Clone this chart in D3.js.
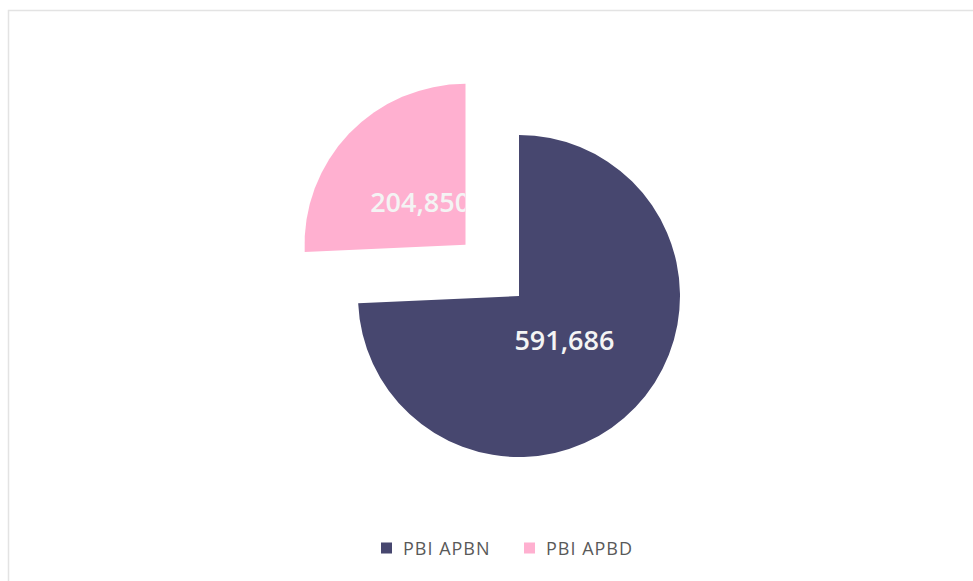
<!DOCTYPE html>
<html>
<head>
<meta charset="utf-8">
<script src="https://cdn.jsdelivr.net/npm/d3@7"></script>
<style>
  html, body { margin: 0; padding: 0; background: #ffffff; }
  svg { display: block; }
</style>
</head>
<body>
<svg id="chart" width="973" height="581"></svg>
<script>
const categories = ["PBI APBN", "PBI APBD"];
const values = [591686, 204850];
const colors = ["#47476F", "#FFB0D0"];
const explode = [0, 74];

const svg = d3.select("#chart");
const W = 973, H = 581;

// chart area border
svg.append("rect")
  .attr("x", 8.5).attr("y", 10.5)
  .attr("width", 1200).attr("height", 1200)
  .attr("fill", "#ffffff")
  .attr("stroke", "#e3e3e3").attr("stroke-width", 1.5);

const cx = 519, cy = 296, r = 161;
const fmt = d3.format(",");

const pie = d3.pie().sort(null).startAngle(0).endAngle(2 * Math.PI);
const arcs = pie(values);
const arc = d3.arc().innerRadius(0).outerRadius(r);
const labelArc = d3.arc().innerRadius(0).outerRadius(r * 0.78);

const defs = svg.append("defs");
const g = svg.append("g").attr("transform", `translate(${cx},${cy})`);

arcs.forEach((a, i) => {
  const mid = (a.startAngle + a.endAngle) / 2;
  const dx = Math.sin(mid) * explode[i];
  const dy = -Math.cos(mid) * explode[i];
  const sg = g.append("g").attr("transform", `translate(${dx},${dy})`);
  sg.append("path").attr("d", arc(a)).attr("fill", colors[i]);
  defs.append("clipPath").attr("id", "clip" + i)
    .append("path").attr("d", arc(a));
  const [lx, ly] = labelArc.centroid(a);
  sg.append("g").attr("clip-path", `url(#clip${i})`)
    .append("text")
    .attr("x", lx).attr("y", ly)
    .attr("text-anchor", "middle")
    .attr("dominant-baseline", "central")
    .attr("font-family", "'Open Sans', 'Noto Sans', sans-serif")
    .attr("font-size", 27)
    .attr("font-weight", 600)
    .attr("fill", "#F4F4F4")
    .text(fmt(values[i]));
});

// legend
const legend = svg.append("g").attr("transform", "translate(0,548)");
const legX = [381, 524];
categories.forEach((c, i) => {
  const lg = legend.append("g").attr("transform", `translate(${legX[i]},0)`);
  lg.append("rect").attr("x", 0).attr("y", -5.5).attr("width", 11).attr("height", 11).attr("fill", colors[i]);
  lg.append("text").attr("x", 22).attr("y", 0)
    .attr("dominant-baseline", "central")
    .attr("font-family", "'Open Sans', 'Noto Sans', sans-serif")
    .attr("font-size", 18)
    .attr("letter-spacing", 1)
    .attr("fill", "#595959")
    .text(c);
});
</script>
</body>
</html>
